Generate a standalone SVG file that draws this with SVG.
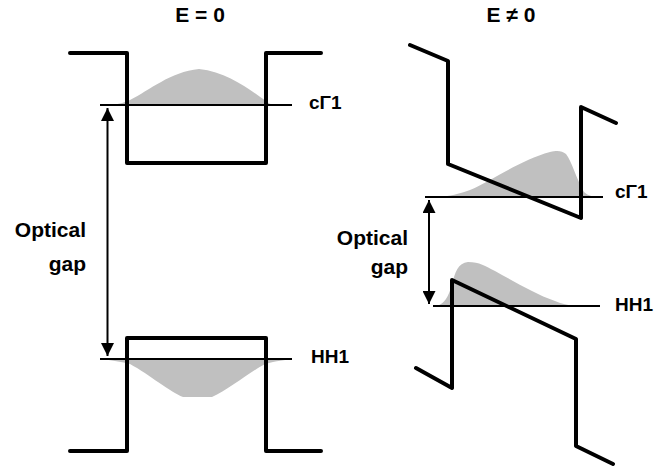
<svg xmlns="http://www.w3.org/2000/svg" width="658" height="468" viewBox="0 0 658 468">
<defs>
<style>
.wf{fill:#c0c0c0;stroke:none}
.lvl{stroke:#000;stroke-width:2.2;fill:none}
.band{stroke:#000;stroke-width:4;fill:none;stroke-linejoin:round;stroke-linecap:round}
.arr{stroke:#000;stroke-width:2;fill:none;marker-start:url(#ah);marker-end:url(#ah)}
.t{font-family:"Liberation Sans",Arial,sans-serif;font-weight:bold;fill:#000}
.title{font-size:21px;text-anchor:middle}
.lab{font-size:19px}
.gap{font-size:21px;text-anchor:end}
</style>
<marker id="ah" viewBox="0 0 13 13" refX="13" refY="6.5" markerWidth="13" markerHeight="13" markerUnits="userSpaceOnUse" orient="auto-start-reverse">
<path d="M0,0 L13,6.5 L0,13 Z" fill="#000"/>
</marker>
</defs>
<rect width="658" height="468" fill="#fff"/>

<g id="panel-left">
<path class="wf" d="M112,105 C120,104 125,102 130,100 C150,90 170,72 199,69 C228,72 250,90 266,101 C268,103 270,104 274,105 Z"/>
<path class="wf" d="M100,359 L292,359 C286,360 276,361 265,364 C250,372 228,390 212,397 L183,397 C170,392 150,375 130,364 C122,362 112,360 100,359 Z"/>
<line class="lvl" x1="100" y1="105" x2="292" y2="105"/>
<line class="lvl" x1="100" y1="359" x2="292" y2="359"/>
<path class="band" d="M70,53 H127 V163 H266 V53 H321"/>
<path class="band" d="M70,451 H127 V338 H266 V451 H321"/>
<text class="t title" x="200" y="22">E = 0</text>
<text class="t lab" x="309" y="109">cΓ1</text>
<text class="t lab" x="311" y="363">HH1</text>
<text class="t gap" x="86" y="237">Optical</text>
<text class="t gap" x="86" y="271">gap</text>
</g>

<g id="panel-right">
<path class="wf" d="M440,197 C450,196 458,194 470,190 C490,182 520,160 550,152 C558,150 562,151 566,154 C572,162 576,178 584,192 C588,196 594,197 600,197 Z"/>
<path class="wf" d="M437,306 C445,303 448,297 452,285 C455,272 458,263 468,262 C480,262 485,266 495,271 C515,282 535,294 555,301 C562,304 568,305 574,306 Z"/>
<line class="lvl" x1="425" y1="197" x2="603" y2="197"/>
<line class="lvl" x1="433" y1="306" x2="600" y2="306"/>
<path class="band" d="M410,45 L448,61 V164 L581,218 V107 L616,123"/>
<path class="band" d="M416,368 L452,388 V280 L576,339 V446 L613,464"/>
<text class="t title" x="511" y="22">E ≠ 0</text>
<text class="t lab" x="615" y="198">cΓ1</text>
<text class="t lab" x="615" y="311">HH1</text>
<text class="t gap" x="408" y="245">Optical</text>
<text class="t gap" x="408" y="274">gap</text>
</g>

<g id="connectors">
<line class="arr" x1="107.5" y1="108" x2="107.5" y2="356"/>
<line class="arr" x1="429" y1="200" x2="429" y2="304"/>
</g>
</svg>
